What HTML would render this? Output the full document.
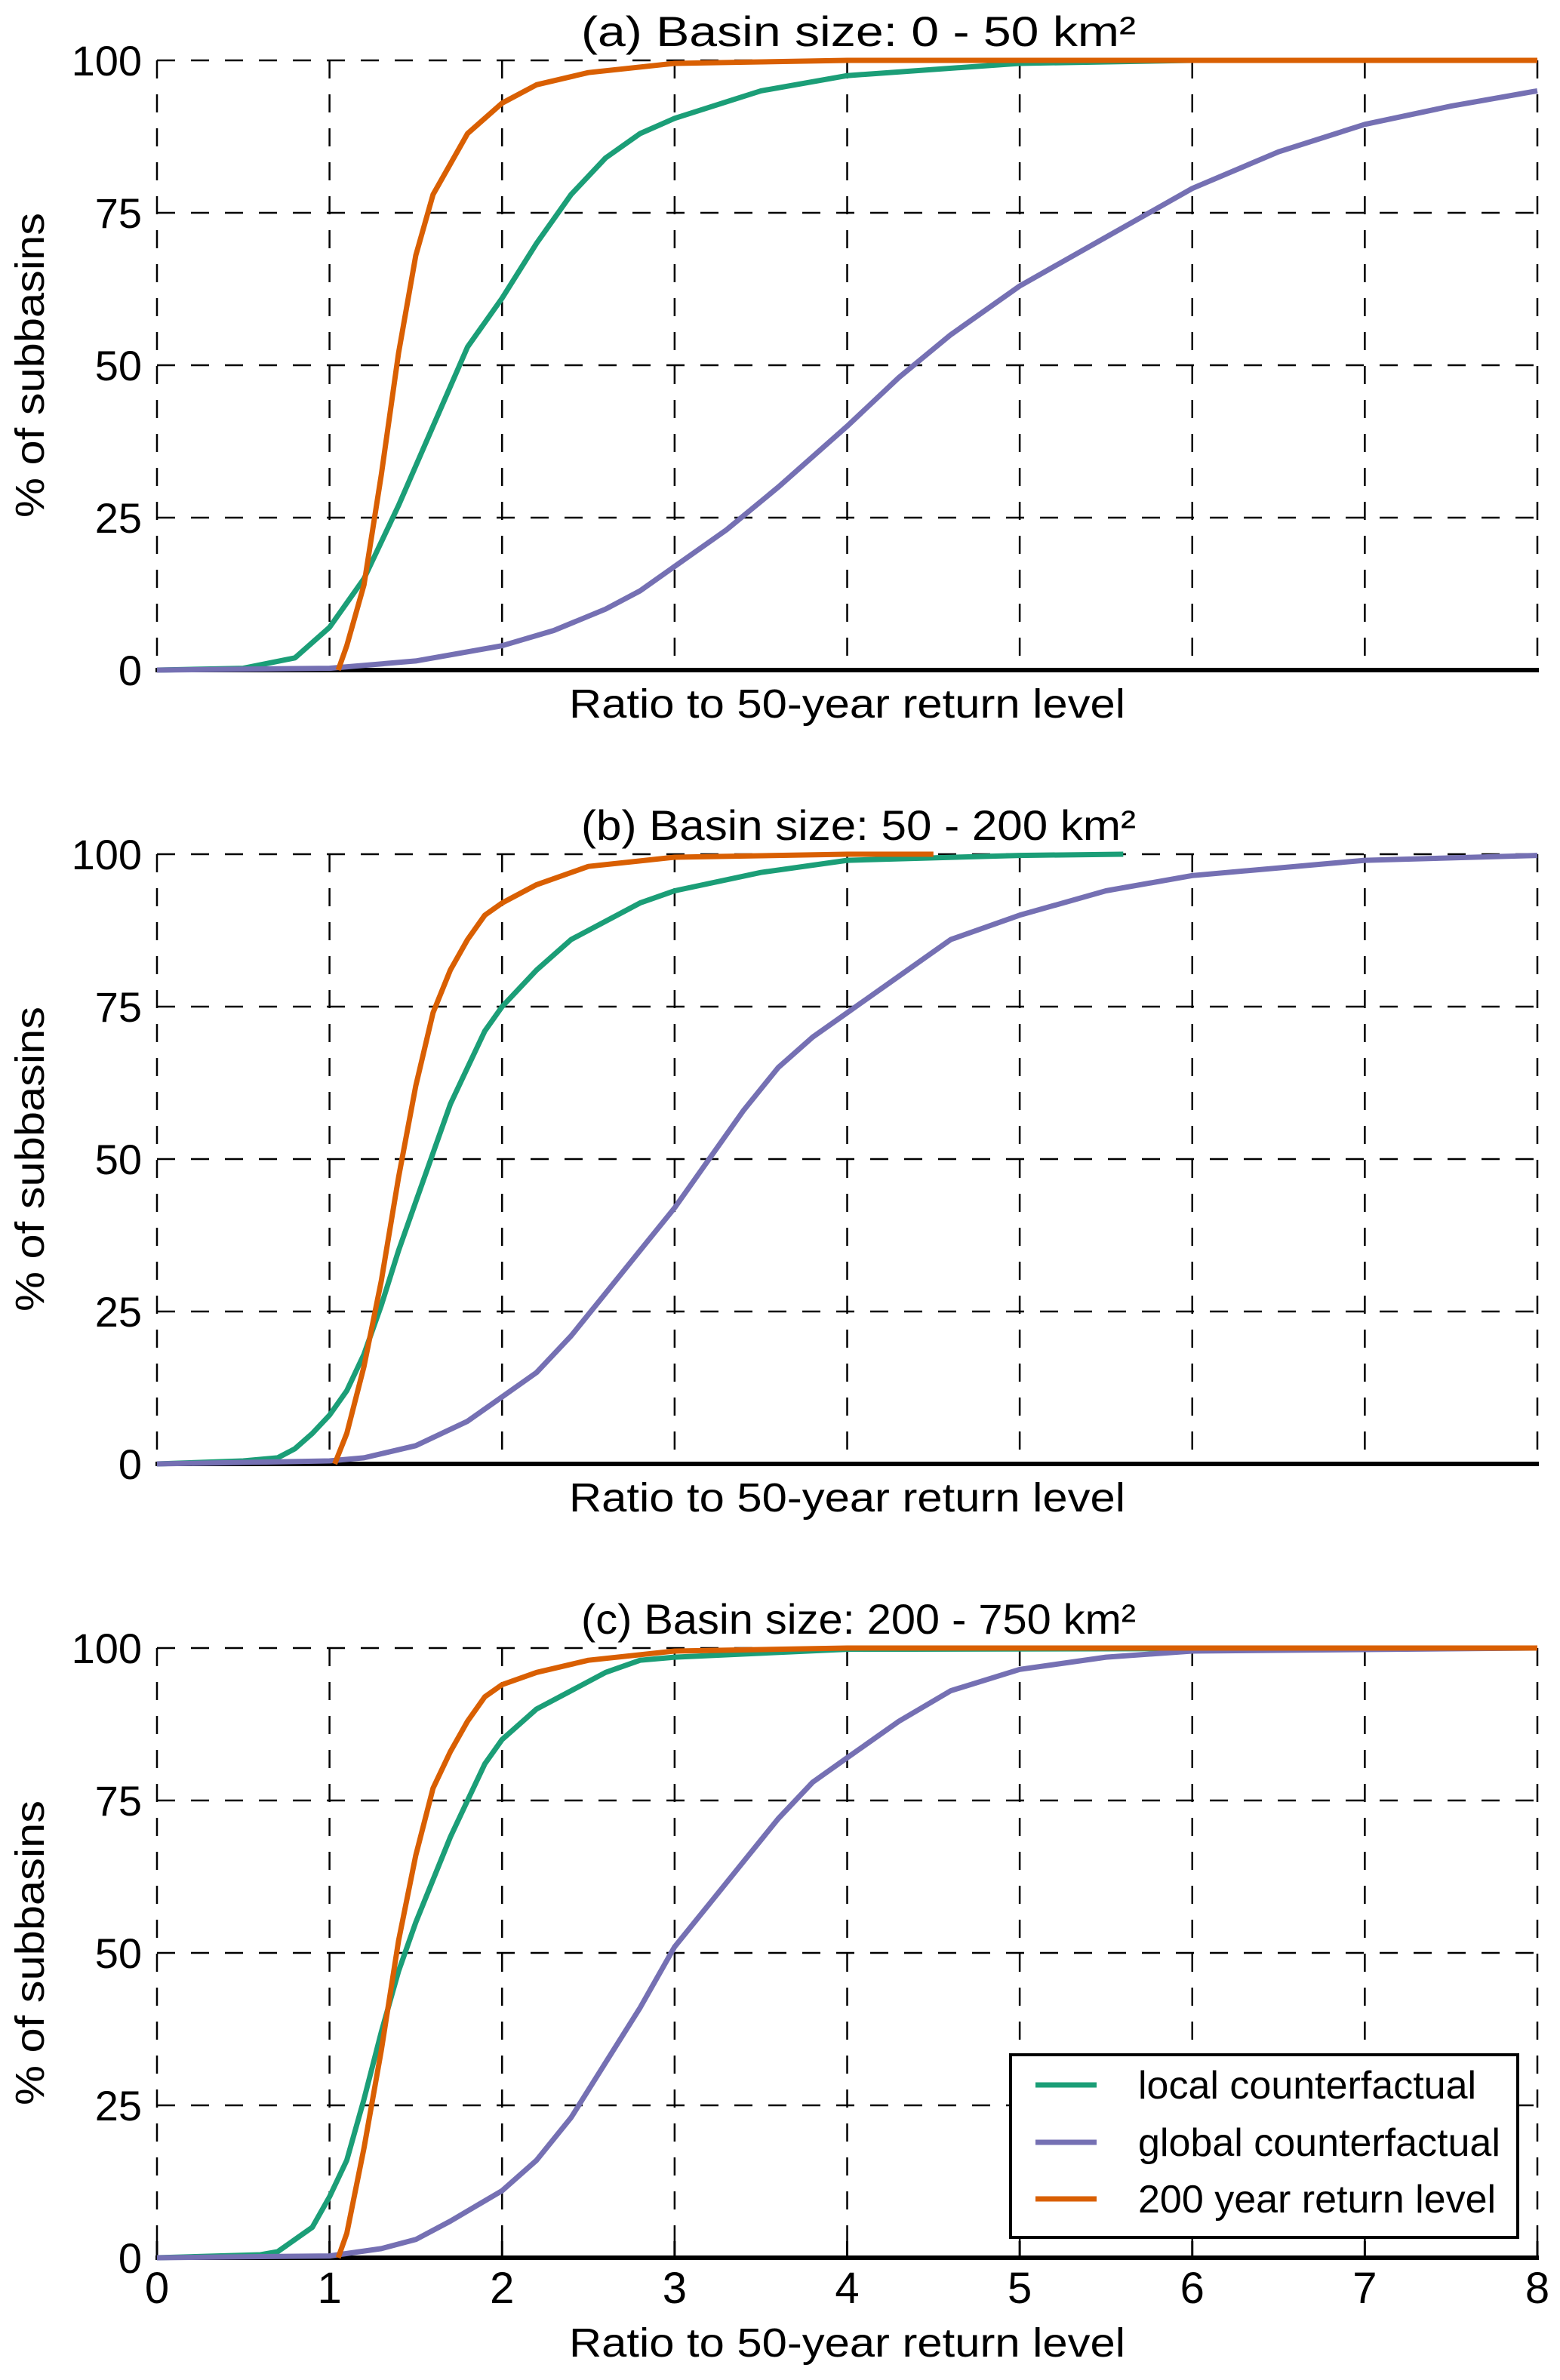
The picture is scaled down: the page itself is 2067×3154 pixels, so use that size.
<!DOCTYPE html>
<html><head><meta charset="utf-8"><style>
html,body{margin:0;padding:0;background:#fff}
svg{display:block}
text{font-family:"Liberation Sans",sans-serif;fill:#000}
</style></head><body>
<svg id="fig" width="2067" height="3154" viewBox="0 0 2067 3154" xmlns="http://www.w3.org/2000/svg"></svg>
<script>
const titles = ["(a) Basin size: 0 - 50 km²","(b) Basin size: 50 - 200 km²","(c) Basin size: 200 - 750 km²"];
const yTicks = [0,25,50,75,100];
const xTicks = [0,1,2,3,4,5,6,7,8];
const seriesNames = ["local counterfactual","global counterfactual","200 year return level"];
const colors = ["#1b9e77","#7570b3","#d95f02"];

const aLocalX = [0,0.5,0.8,1,1.2,1.4,1.6,1.8,2,2.2,2.4,2.6,2.8,3,3.5,4,5,6,8];
const aLocalY = [0,0.3,2,7,15,27,40,53,61,70,78,84,88,90.5,95,97.5,99.5,100,100];
const aGlobalX = [0,1,1.5,1.8,2,2.3,2.6,2.8,3,3.3,3.6,4,4.3,4.6,5,5.5,6,6.5,7,7.5,8];
const aGlobalY = [0,0.3,1.5,3,4,6.5,10,13,17,23,30,40,48,55,63,71,79,85,89.5,92.5,95];
const aRetX = [1.05,1.1,1.2,1.3,1.4,1.5,1.6,1.8,2,2.2,2.5,3,4,8];
const aRetY = [0,4,14,32,52,68,78,88,93,96,98,99.5,100,100];

const bLocalX = [0,0.5,0.7,0.8,0.9,1,1.1,1.2,1.3,1.4,1.5,1.6,1.7,1.8,1.9,2,2.2,2.4,2.6,2.8,3,3.5,4,5,5.6];
const bLocalY = [0,0.5,1,2.5,5,8,12,18,26,35,43,51,59,65,71,75,81,86,89,92,94,97,99,99.8,100];
const bGlobalX = [0,1,1.2,1.5,1.8,2,2.2,2.4,2.6,2.8,3,3.2,3.4,3.6,3.8,4,4.3,4.6,5,5.5,6,7,8];
const bGlobalY = [0,0.5,1,3,7,11,15,21,28,35,42,50,58,65,70,74,80,86,90,94,96.5,99,99.8];
const bRetX = [1.03,1.1,1.2,1.3,1.4,1.5,1.6,1.7,1.8,1.9,2,2.2,2.5,3,4,4.5];
const bRetY = [0,5,16,30,47,62,74,81,86,90,92,95,98,99.5,100,100];

const cLocalX = [0,0.6,0.7,0.8,0.9,1,1.1,1.2,1.3,1.4,1.5,1.6,1.7,1.8,1.9,2,2.2,2.4,2.6,2.8,3,4,8];
const cLocalY = [0,0.5,1,3,5,10,16,26,37,47,55,62,69,75,81,85,90,93,96,98,98.5,99.8,100];
const cGlobalX = [0,1,1.3,1.5,1.7,2,2.2,2.4,2.6,2.8,3,3.2,3.4,3.6,3.8,4,4.3,4.6,5,5.5,6,8];
const cGlobalY = [0,0.3,1.5,3,6,11,16,23,32,41,51,58,65,72,78,82,88,93,96.5,98.5,99.5,100];
const cRetX = [1.05,1.1,1.2,1.3,1.4,1.5,1.6,1.7,1.8,1.9,2,2.2,2.5,3,4,8];
const cRetY = [0,4,18,34,52,66,77,83,88,92,94,96,98,99.5,100,100];

const panelsData = [
  [[aLocalX,aLocalY],[aGlobalX,aGlobalY],[aRetX,aRetY]],
  [[bLocalX,bLocalY],[bGlobalX,bGlobalY],[bRetX,bRetY]],
  [[cLocalX,cLocalY],[cGlobalX,cGlobalY],[cRetX,cRetY]]
];

const NS="http://www.w3.org/2000/svg";
const svg=document.getElementById('fig');
const X0=208,X1=2037,PH=808,tops=[80,1132,2184];
function mk(tag,attrs,parent){const e=document.createElementNS(NS,tag);for(const k in attrs)e.setAttribute(k,attrs[k]);(parent||svg).appendChild(e);return e;}
const sx=v=>X0+(v-0)/(8-0)*(X1-X0);

panelsData.forEach((series,p)=>{
  const top=tops[p],bot=top+PH;
  const sy=v=>bot-v/100*PH;
  const g=mk('g',{});
  
  
  const grid=mk('g',{stroke:'#000','stroke-width':2.5,'stroke-dasharray':'24 21',fill:'none'},g);
  
  
  yTicks.forEach(t=>{ if(t>0) mk('line',{x1:X0,x2:X1,y1:sy(t),y2:sy(t)},grid); });
  xTicks.forEach(t=>{ mk('line',{x1:sx(t),x2:sx(t),y1:top,y2:bot},grid); });
  const ax=mk('line',{x1:X0-2,x2:X1+2,y1:bot,y2:bot,stroke:'#000','stroke-width':6},g);
  
  
  if(p===2){
    xTicks.forEach(t=>{
      mk('line',{x1:sx(t),x2:sx(t),y1:bot,y2:bot-22,stroke:'#000','stroke-width':3},g);
      const tl=mk('text',{x:sx(t),y:bot+60,'font-size':58,'text-anchor':'middle'},g);
      
      
      tl.textContent=t;
    });
  }
  yTicks.forEach(t=>{
    const tl=mk('text',{x:188,y:sy(t)+20,'font-size':56,'text-anchor':'end'},g);
    
    
    tl.textContent=t;
  });
  series.forEach((s,i)=>{
    const d=s[0].map((x,j)=>(j?'L':'M')+sx(x).toFixed(1)+','+sy(s[1][j]).toFixed(1)).join('');
    const path=mk('path',{d:d,fill:'none',stroke:colors[i],'stroke-width':7,'stroke-linejoin':'round'},g);
    
    
  });
  const tt=mk('text',{x:(X0+X1)/2+15,y:top-19,'font-size':56,'text-anchor':'middle',textLength:735,lengthAdjust:'spacingAndGlyphs'},g);
  
  
  tt.textContent=titles[p];
  const xl=mk('text',{x:(X0+X1)/2,y:p===2?bot+131:bot+63,'font-size':54,'text-anchor':'middle',textLength:737,lengthAdjust:'spacingAndGlyphs'},g);
  
  
  xl.textContent='Ratio to 50-year return level';
  const yl=mk('text',{x:0,y:0,'font-size':54,'text-anchor':'middle',transform:`translate(58,${top+PH/2}) rotate(-90)`,textLength:404,lengthAdjust:'spacingAndGlyphs'},g);
  
  
  yl.textContent='% of subbasins';
});

const lg=mk('g',{});


mk('rect',{x:1339,y:2723,width:672,height:242,fill:'#fff',stroke:'#000','stroke-width':4},lg);
const rowsY=[2763,2839,2914];
seriesNames.forEach((n,i)=>{
  mk('line',{x1:1372,x2:1453,y1:rowsY[i],y2:rowsY[i],stroke:colors[i],'stroke-width':7},lg);
  const t=mk('text',{x:1508,y:rowsY[i]+18,'font-size':52},lg);
  
  
  t.textContent=n;
});
</script>
</body></html>
